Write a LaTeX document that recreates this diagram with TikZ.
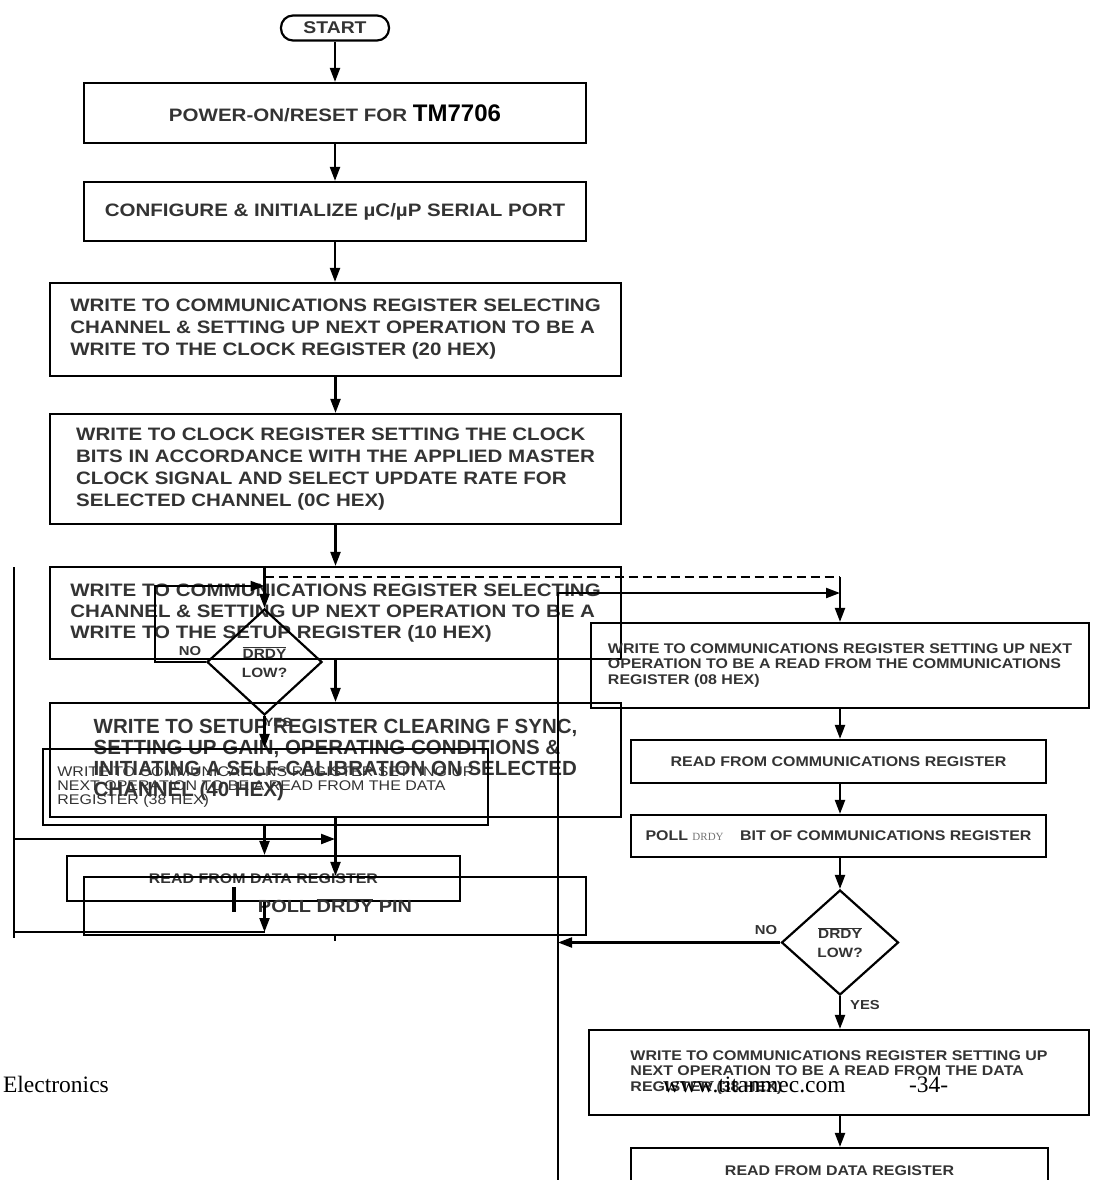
\documentclass[tikz,border=0pt]{standalone}
\usepackage{fontspec}
\setmainfont{Liberation Serif}
\newfontfamily\boxfont[FakeStretch=1.14]{Liberation Sans}
\newfontfamily\plainsans{Liberation Sans}
\usepackage{tikz}
\usetikzlibrary{shapes,arrows.meta,positioning}
\newcommand{\ovl}[1]{$\overline{\mbox{#1}}$}

\begin{document}
\begin{tikzpicture}[x=1pt,y=-1pt,line width=2.2pt,
  box/.style={draw,rectangle,inner sep=0pt,align=left,text=black!80,
    font=\boxfont\bfseries\fontsize{18}{22}\selectfont},
  smalltext/.style={font=\boxfont\bfseries\fontsize{14}{15.5}\selectfont},
  decision/.style={draw,diamond,inner sep=0pt,align=center,text=black!80,
    font=\boxfont\bfseries\fontsize{13.5}{19}\selectfont},
  lbl/.style={text=black!80,inner sep=0pt,font=\boxfont\bfseries\fontsize{13}{13}\selectfont},
  arr/.style={-{Triangle[length=14pt,width=10pt]}},
  foot/.style={inner sep=0pt,font=\fontsize{23.5}{23.5}\selectfont}]

  \useasboundingbox (0,0) rectangle (1093,1180);
  \clip (0,0) rectangle (1093,1180);

  \node[box,rounded corners=12pt,minimum width=108pt,minimum height=25pt,
    font=\boxfont\bfseries\fontsize{17}{17}\selectfont] (start) at (335,28) {START};
  \node[box,minimum width=502pt,minimum height=60pt] (power) at (335,113)
    {POWER-ON/RESET FOR {\plainsans\bfseries\color{black}\fontsize{24}{24}\selectfont TM7706}};
  \node[box,minimum width=502pt,minimum height=59pt] (config) at (335,211.5)
    {CONFIGURE \& INITIALIZE µC/µP SERIAL PORT};
  \node[box,minimum width=571pt,minimum height=93pt] (selclock) at (335.5,329.5)
    {WRITE TO COMMUNICATIONS REGISTER SELECTING\\CHANNEL \& SETTING UP NEXT OPERATION TO BE A\\WRITE TO THE CLOCK REGISTER (20 HEX)};
  \node[box,minimum width=571pt,minimum height=110pt] (clockreg) at (335.5,469)
    {WRITE TO CLOCK REGISTER SETTING THE CLOCK\\BITS IN ACCORDANCE WITH THE APPLIED MASTER\\CLOCK SIGNAL AND SELECT UPDATE RATE FOR\\SELECTED CHANNEL (0C HEX)};
  \node[box,minimum width=571pt,minimum height=92pt,font=\boxfont\bfseries\fontsize{18}{21}\selectfont] (selsetup) at (335.5,613)
    {WRITE TO COMMUNICATIONS REGISTER SELECTING\\CHANNEL \& SETTING UP NEXT OPERATION TO BE A\\WRITE TO THE SETUP REGISTER (10 HEX)};
  \node[box,minimum width=571pt,minimum height=114pt,font=\plainsans\bfseries\fontsize{20.5}{21}\selectfont] (setupreg) at (335.5,760)
    {WRITE TO SETUP REGISTER CLEARING F SYNC,\\SETTING UP GAIN, OPERATING CONDITIONS \&\\INITIATING A SELF-CALIBRATION ON SELECTED\\CHANNEL (40 HEX)};
  \node[box,minimum width=445pt,minimum height=76pt,font=\boxfont\fontsize{14}{14}\selectfont] (seldataL) at (265.5,787)
    {WRITE TO COMMUNICATIONS REGISTER SETTING UP\\NEXT OPERATION TO BE A READ FROM THE DATA\\REGISTER (38 HEX)};
  \node[box,smalltext,minimum width=393pt,minimum height=45pt] (readdataL) at (263.5,878.5) {READ FROM DATA REGISTER};
  \node[box,minimum width=502pt,minimum height=58pt,font=\boxfont\bfseries\fontsize{17.5}{18}\selectfont] (pollpin) at (335,906)
    {POLL \ovl{DRDY} PIN};
  \node[decision,minimum width=115pt,minimum height=106pt] (drdyL) at (264.5,662) {\ovl{DRDY}\\LOW?};

  \node[box,smalltext,minimum width=498pt,minimum height=85pt] (selcommR) at (840,665.5)
    {WRITE TO COMMUNICATIONS REGISTER SETTING UP NEXT\\OPERATION TO BE A READ FROM THE COMMUNICATIONS\\REGISTER (08 HEX)};
  \node[box,smalltext,minimum width=415pt,minimum height=43pt] (readcomm) at (838.5,761.5) {READ FROM COMMUNICATIONS REGISTER};
  \node[box,smalltext,minimum width=415pt,minimum height=42pt] (pollbit) at (838.5,836)
    {POLL {\rmfamily\mdseries\color{black!55}\fontsize{11}{11}\selectfont DRDY}\hspace{12pt} BIT OF COMMUNICATIONS REGISTER};
  \node[decision,minimum width=117pt,minimum height=105pt] (drdyR) at (840,942.5) {\ovl{DRDY}\\LOW?};
  \node[box,smalltext,minimum width=500pt,minimum height=85pt] (seldataR) at (839,1072.5)
    {WRITE TO COMMUNICATIONS REGISTER SETTING UP\\NEXT OPERATION TO BE A READ FROM THE DATA\\REGISTER (38 HEX)};
  \node[box,smalltext,minimum width=417pt,minimum height=45pt] (readdataR) at (839.5,1170.5) {READ FROM DATA REGISTER};

  \node[lbl] (noL) at (190,651) {NO};
  \node[lbl,font=\boxfont\bfseries\fontsize{12}{12}\selectfont] (yesL) at (278,722) {YES};
  \node[lbl] (noR) at (766,930) {NO};
  \node[lbl] (yesR) at (865,1005) {YES};

  \coordinate (loopin) at (264.5,586);
  \coordinate (dashin) at (264.5,577);
  \coordinate (dashturn) at (840,577);
  \coordinate (looptop) at (558,593);
  \coordinate (loopbot) at (558,1190);
  \coordinate (railtop) at (14,567);
  \coordinate (railbot) at (14,938);
  \coordinate (railmid) at (14,839);
  \coordinate (backjoin) at (264.5,932);

  \draw[arr] (start) -- (power);
  \draw[arr] (power) -- (config);
  \draw[arr] (config) -- (config |- selclock.north);
  \draw[arr] (selclock.south) -- (clockreg.north);
  \draw[arr] (clockreg.south) -- (selsetup.north);
  \draw[arr] (selsetup.south) -- (setupreg.north);
  \draw[arr] (selsetup.north -| drdyL.north) -- (drdyL.north);
  \draw[arr] (drdyL.west) -| (155,586) -- (loopin);
  \draw[arr] (drdyL.south) -- (drdyL.south |- seldataL.north);
  \draw[arr] (seldataL.south -| drdyL.south) -- (readdataL.north -| drdyL.south);
  \draw[arr] (setupreg.south) -- (setupreg.south |- pollpin.north);
  \draw[arr] (readdataL.south -| drdyL.south) -- (backjoin);
  \draw (backjoin) -- (backjoin -| railtop);
  \draw (railtop) -- (railbot);
  \draw[arr] (railmid) -- (railmid -| pollpin.north);
  \draw (pollpin.south) -- ++(0,5);
  \draw[line width=3.5pt] (234,887) -- (234,912);

  \draw[dash pattern=on 9pt off 5pt] (dashin) -- (dashturn);
  \draw[arr] (dashturn) -- (selcommR.north);
  \draw[arr] (loopbot) -- (looptop) -- (looptop -| selcommR.north);
  \draw[arr] (selcommR.south) -- (selcommR.south |- readcomm.north);
  \draw[arr] (readcomm.south -| selcommR.south) -- (selcommR.south |- pollbit.north);
  \draw[arr] (pollbit.south -| selcommR.south) -- (drdyR.north);
  \draw[arr] (drdyR.west) -- (drdyR.west -| looptop);
  \draw[arr] (drdyR.south) -- (drdyR.south |- seldataR.north);
  \draw[arr] (seldataR.south -| drdyR.south) -- (readdataR.north -| drdyR.south);

  \node[foot,anchor=base west] (brand) at (2,1092) {Electronics};
  \node[foot,anchor=base west] (site) at (662,1092) {www.titanmec.com};
  \node[foot,anchor=base west] (page) at (908,1092) {-34-};
\end{tikzpicture}
\end{document}
